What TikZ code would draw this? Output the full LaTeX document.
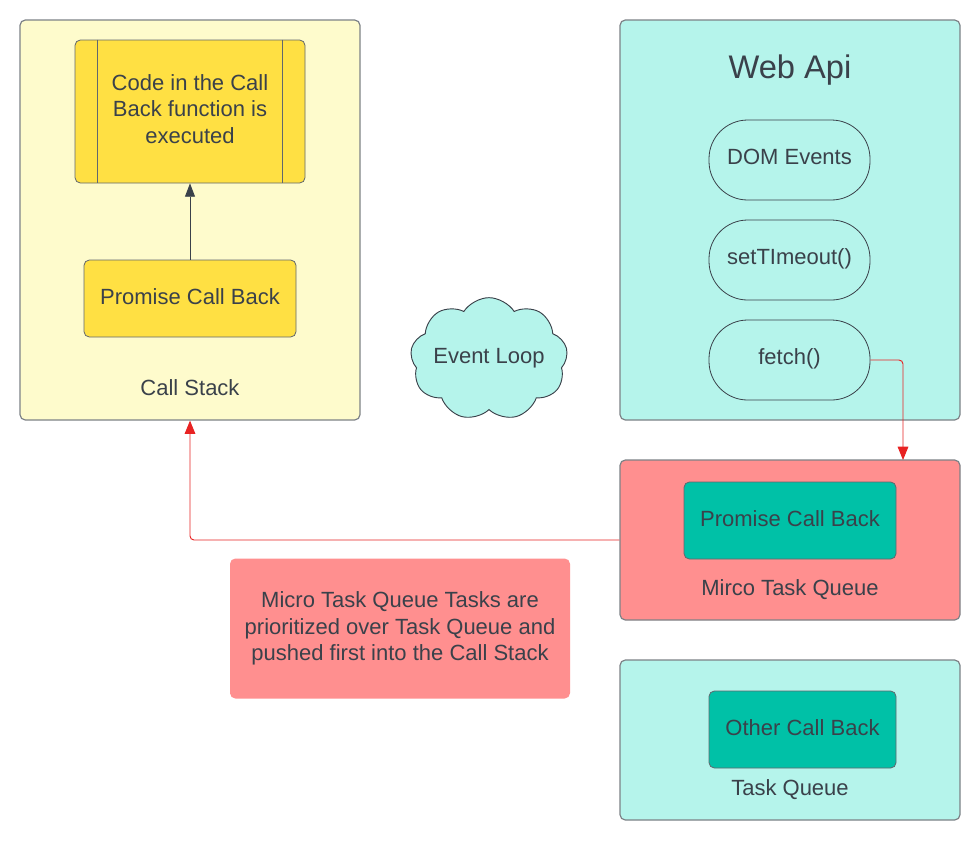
\documentclass[tikz,border=0pt]{standalone}
\usepackage{fontspec}
\setmainfont{Liberation Sans}
\usetikzlibrary{arrows.meta,shapes.symbols,shapes.misc}
\definecolor{txt}{HTML}{3A414A}
\definecolor{lyellow}{HTML}{FEFBCC}
\definecolor{yel}{HTML}{FFE043}
\definecolor{lteal}{HTML}{B5F4EB}
\definecolor{dteal}{HTML}{00C1A7}
\definecolor{pink}{HTML}{FF8F8F}
\definecolor{bord}{HTML}{7D8287}
\definecolor{redline}{HTML}{E82222}
\tikzset{
  base/.style={font=\fontsize{16.5}{20}\selectfont, text=txt},
  bigbox/.style={draw=bord, line width=0.9pt, rounded corners=4pt, minimum width=255pt, inner sep=0pt},
  ybox/.style={draw=txt!80, line width=0.6pt, fill=yel, rounded corners=4pt, inner sep=0pt, minimum width=159pt, minimum height=57.75pt, text depth=3pt, base},
  tbox/.style={draw=txt!80, line width=0.6pt, fill=dteal, rounded corners=4pt, inner sep=0pt, minimum height=57.75pt, text depth=3pt, base},
  stadium/.style={draw=txt, line width=0.6pt, rounded corners=29pt, minimum width=120.75pt, minimum height=60pt, inner sep=0pt, text depth=4.5pt, base},
  lbl/.style={base},
  darrow/.style={draw=txt, line width=0.7pt, -{Triangle[length=10pt,width=7.5pt]}},
  rarrow/.style={draw=redline, line width=0.7pt, rounded corners=3pt, -{Triangle[length=10pt,width=8pt]}},
}
\begin{document}
\begin{tikzpicture}[x=0.75pt,y=-0.75pt]
\useasboundingbox[fill=white] (0,0) rectangle (980,840);
% Call stack
\node[bigbox, fill=lyellow, minimum height=300pt] (cs) at (190,220) {};
\node[lbl] (cslbl) at (190,388) {Call Stack};
\node[ybox, minimum width=172.5pt, minimum height=107.25pt] (proc) at (190,111.5) {};
\draw[txt!80, line width=0.6pt] ([xshift=17.25pt]proc.north west) -- ([xshift=17.25pt]proc.south west);
\draw[txt!80, line width=0.6pt] ([xshift=-17.25pt]proc.north east) -- ([xshift=-17.25pt]proc.south east);
\node[lbl, align=center] (proctxt) at (190,109) {Code in the Call\\Back function is\\executed};
\node[ybox] (pcb) at (190,298.5) {Promise Call Back};
\draw[darrow] (pcb.north) -- (proc.south);
% Event loop
\node[cloud, cloud puffs=9, cloud puff arc=115, draw=txt, line width=0.7pt, fill=lteal, minimum width=118pt, minimum height=92pt, inner sep=0pt] (el) at (489,359) {};
\node[lbl] (eltxt) at (489,358) {Event Loop};
% Web Api
\node[bigbox, fill=lteal, minimum height=300pt] (web) at (790,220) {};
\node[text=txt, font=\fontsize{24.5}{28}\selectfont] (webt) at (790,70) {Web Api};
\node[stadium] (dom) at (789.5,160) {DOM Events};
\node[stadium] (st) at (789.5,260) {setTImeout()};
\node[stadium] (fetch) at (789.5,360) {fetch()};
% Micro task queue
\node[bigbox, fill=pink, minimum height=120pt] (mq) at (790,540) {};
\node[tbox, minimum width=159pt] (mpcb) at (790,520.5) {Promise Call Back};
\node[lbl] (mqlbl) at (790,590) {Mirco Task Queue};
\coordinate (fd) at (903,460);
\draw[rarrow] (fetch.east) -| (fd);
\draw[rarrow] (mq.west) -- (mq.west -| cs.south) -- (cs.south);
% Note
\node[fill=pink, rounded corners=4pt, minimum width=255pt, minimum height=105pt, inner sep=0pt, lbl, align=center] (note) at (400,628.5) {Micro Task Queue Tasks are\\prioritized over Task Queue and\\pushed first into the Call Stack};
% Task queue
\node[bigbox, fill=lteal, minimum height=120pt] (tq) at (790,740) {};
\node[tbox, minimum width=140.25pt] (ocb) at (802.5,729.5) {Other Call Back};
\node[lbl] (tqlbl) at (790,790) {Task Queue};
\end{tikzpicture}
\end{document}
